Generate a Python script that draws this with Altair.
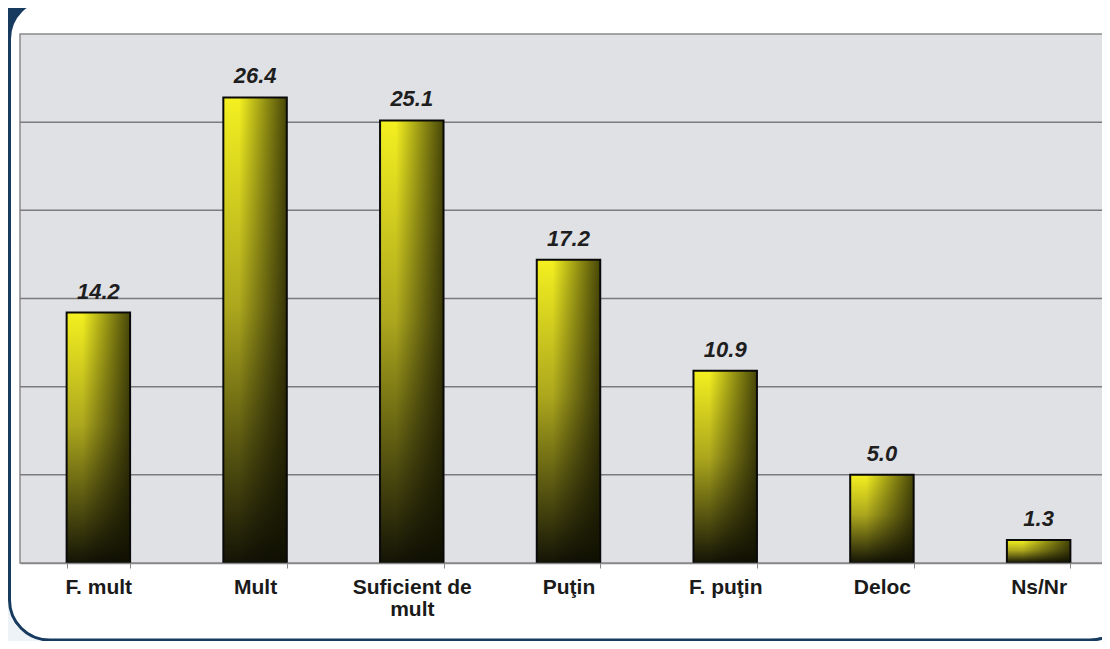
import altair as alt
import pandas as pd

# ---- data ----
categories = ["F. mult", "Mult", "Suficient de mult", "Puţin", "F. puţin", "Deloc", "Ns/Nr"]
values = [14.2, 26.4, 25.1, 17.2, 10.9, 5.0, 1.3]
grid_values = [5, 10, 15, 20, 25]

df = pd.DataFrame({"cat": categories, "val": values})
grid_df = pd.DataFrame({"v": grid_values})
one = pd.DataFrame({"k": [0]})

W, H = 1082, 529
NAVY = "#173a5f"
FONT = "Liberation Sans"

xscale = alt.Scale(domain=categories, range=[0, 1097], paddingInner=0.595, paddingOuter=0.2975)
yscale = alt.Scale(domain=[0, 30], nice=False, zero=True)

# ---- decorative frame ----
navy_tl = alt.Chart(one).mark_rect(color=NAVY).encode(
    x=alt.value(-12), x2=alt.value(45), y=alt.value(-26), y2=alt.value(60))
navy_tr = alt.Chart(one).mark_rect(color=NAVY).encode(
    x=alt.value(1030), x2=alt.value(1090), y=alt.value(-26), y2=alt.value(30))
panel = alt.Chart(one).mark_rect(color="white", stroke=NAVY, strokeWidth=3, cornerRadius=40).encode(
    x=alt.value(-10.5), x2=alt.value(1110), y=alt.value(-35), y2=alt.value(606))
marble = alt.Chart(one).mark_rect(color="#e0e1e5", stroke="#8a8a8a", strokeWidth=1.5).encode(
    x=alt.value(0), x2=alt.value(1100), y=alt.value(0), y2=alt.value(H))

# ---- gridlines ----
grid = alt.Chart(grid_df).mark_rule(color="#7b7b7b", strokeWidth=1.5).encode(
    y=alt.Y("v:Q", scale=yscale, axis=None))

# ---- bars ----
vert_grad = alt.LinearGradient(
    gradient="linear",
    stops=[alt.GradientStop(color="#f4f020", offset=0),
           alt.GradientStop(color="#aca71d", offset=0.45),
           alt.GradientStop(color="#141406", offset=1)],
    x1=0, x2=0, y1=0, y2=1)
horiz_grad = alt.LinearGradient(
    gradient="linear",
    stops=[alt.GradientStop(color="rgba(0,0,0,0)", offset=0),
           alt.GradientStop(color="rgba(0,0,0,0)", offset=0.25),
           alt.GradientStop(color="rgba(15,15,0,0.75)", offset=1)],
    x1=0, x2=1, y1=0, y2=0)

xenc = alt.X("cat:N", scale=xscale, sort=categories, axis=alt.Axis(
    title=None, labelAngle=0, labelFont=FONT, labelFontSize=21, labelFontWeight="bold",
    labelColor="#1a1a1a", labelPadding=8, labelLineHeight=22,
    labelExpr="datum.label == 'Suficient de mult' ? ['Suficient de', 'mult'] : datum.label",
    tickBand="extent", tickSize=5, tickColor="#888888", domainColor="#888888",
    domainWidth=1.5, grid=False, zindex=1))
yenc = alt.Y("val:Q", scale=yscale, axis=None)

bars = alt.Chart(df).mark_bar(color=vert_grad).encode(x=xenc, y=yenc)
bars_shade = alt.Chart(df).mark_bar(color=horiz_grad, stroke="#0a0a0a", strokeWidth=2).encode(x=xenc, y=yenc)

labels = alt.Chart(df).mark_text(
    dy=-9, baseline="bottom", fontSize=22, fontWeight="bold", fontStyle="italic",
    font=FONT, color="#1e1e1e").encode(
    x=xenc, y=yenc, text=alt.Text("val:Q", format=".1f"))

chart = alt.layer(navy_tl, navy_tr, panel, marble, grid, bars, bars_shade, labels).properties(
    width=W, height=H,
    autosize=alt.AutoSizeParams(type="none"),
    padding={"left": 12, "top": 26, "right": 0, "bottom": 78},
    background="#eef3f8",
).configure_view(stroke=None)

chart.save("out.html", embed_options={"renderer": "svg", "actions": False})
